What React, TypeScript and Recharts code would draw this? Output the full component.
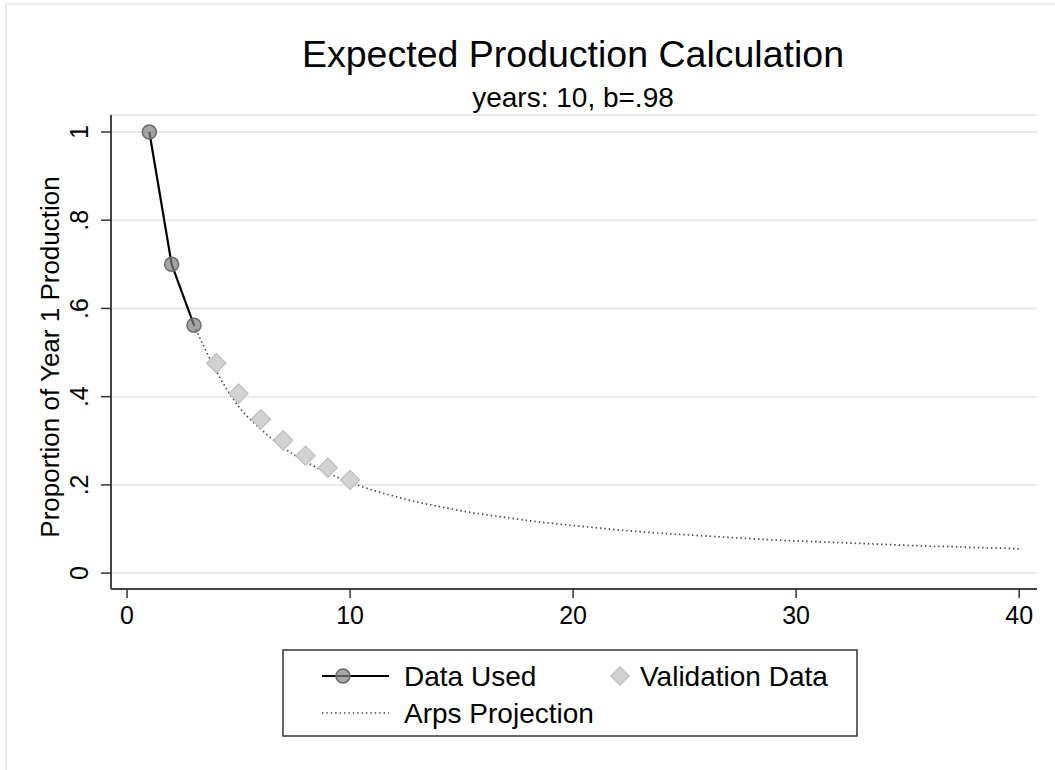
import { ComposedChart, Line, Scatter, XAxis, YAxis, CartesianGrid } from "recharts";

const FONT = "'Liberation Sans', Arial, sans-serif";

// data used for the fit (years 1-3)
const usedYears = [1, 2, 3];
const usedValues = [1, 0.7, 0.562];

// held-out validation points
const validationYears = [4, 5, 6, 7, 8, 9, 10];
const validationValues = [0.476, 0.407, 0.349, 0.301, 0.266, 0.239, 0.211];

// Arps projection
const projectionYears = [
  3, 4, 5, 6, 7, 8, 9, 10, 11, 12, 13, 14, 15, 16, 17, 18, 19, 20, 21, 22,
  23, 24, 25, 26, 27, 28, 29, 30, 31, 32, 33, 34, 35, 36, 37, 38, 39, 40,
];
const projectionValues = [
  0.562, 0.458, 0.378, 0.326, 0.285, 0.253, 0.227, 0.206, 0.188, 0.174, 0.161,
  0.151, 0.141, 0.133, 0.126, 0.119, 0.113, 0.108, 0.103, 0.098, 0.094, 0.09,
  0.087, 0.084, 0.081, 0.078, 0.075, 0.073, 0.071, 0.069, 0.067, 0.065, 0.063,
  0.061, 0.06, 0.058, 0.057, 0.055,
];

const xTicks = [0, 10, 20, 30, 40];
const yTicks = [0, 0.2, 0.4, 0.6, 0.8, 1];
const yTickLabels = ["0", ".2", ".4", ".6", ".8", "1"];

const usedData = usedYears.map((year, i) => ({ year, value: usedValues[i] }));
const validationData = validationYears.map((year, i) => ({ year, value: validationValues[i] }));
const projectionData = projectionYears.map((year, i) => ({ year, value: projectionValues[i] }));

const YTick = ({ x, y, payload }: any) => {
  const bx = x - 11;
  const idx = yTicks.indexOf(payload.value);
  return (
    <text
      x={bx}
      y={y}
      transform={`rotate(-90, ${bx}, ${y})`}
      textAnchor="middle"
      fontSize={25}
      fontFamily={FONT}
      fill="#000"
    >
      {idx >= 0 ? yTickLabels[idx] : payload.value}
    </text>
  );
};

const XTick = ({ x, y, payload }: any) => (
  <text x={x} y={y + 24} textAnchor="middle" fontSize={25} fontFamily={FONT} fill="#000">
    {payload.value}
  </text>
);

const Diamond = ({ cx, cy }: any) => {
  if (cx == null || cy == null) return null;
  const h = 9.5;
  return (
    <path
      d={`M${cx},${cy - h} L${cx + h},${cy} L${cx},${cy + h} L${cx - h},${cy} Z`}
      fill="#d2d2d2"
      stroke="#c2c2c2"
      strokeWidth={1.5}
    />
  );
};

function LegendBox() {
  return (
    <svg
      width={576}
      height={88}
      style={{ position: "absolute", left: 282, top: 649 }}
      fontFamily={FONT}
    >
      <rect x={1} y={1} width={574} height={86} fill="#fff" stroke="#333" strokeWidth={1.5} />
      <line x1={40} y1={27} x2={107} y2={27} stroke="#000" strokeWidth={2} />
      <circle cx={61} cy={27} r={7} fill="#7f7f7f" fillOpacity={0.7} stroke="#6a6a6a" strokeWidth={1.5} />
      <text x={122} y={37} fontSize={28} fill="#000">Data Used</text>
      <path d="M338,18 L347,27 L338,36 L329,27 Z" fill="#d2d2d2" stroke="#c2c2c2" strokeWidth={1.5} />
      <text x={358} y={37} fontSize={28} fill="#000">Validation Data</text>
      <line x1={40} y1={64} x2={107} y2={64} stroke="#444" strokeWidth={1.6} strokeDasharray="1.4 3" />
      <text x={122} y={74} fontSize={28} fill="#000">Arps Projection</text>
    </svg>
  );
}

export default function App() {
  return (
    <div
      style={{
        position: "absolute",
        left: 0,
        top: 0,
        width: 1055,
        height: 770,
        background: "#fff",
        overflow: "hidden",
      }}
    >
      <ComposedChart
        width={1055}
        height={770}
        margin={{ top: 115, right: 18, bottom: 121, left: 10 }}
      >
        <CartesianGrid horizontal vertical={false} stroke="#e9e9e9" strokeWidth={2} />
        <XAxis
          type="number"
          dataKey="year"
          domain={[-0.72, 40.8]}
          allowDataOverflow
          ticks={xTicks}
          tick={<XTick />}
          tickSize={9}
          height={60}
          axisLine={{ stroke: "#444", strokeWidth: 2 }}
          tickLine={{ stroke: "#333", strokeWidth: 1.5 }}
        />
        <YAxis
          type="number"
          domain={[-0.036, 1.0385]}
          allowDataOverflow
          ticks={yTicks}
          tick={<YTick />}
          tickSize={10}
          width={101}
          axisLine={{ stroke: "#444", strokeWidth: 2 }}
          tickLine={{ stroke: "#333", strokeWidth: 1.5 }}
        />
        <Line
          data={usedData}
          dataKey="value"
          type="linear"
          stroke="#000"
          strokeWidth={2.2}
          dot={{ r: 7, fill: "#7f7f7f", fillOpacity: 0.7, stroke: "#6a6a6a", strokeWidth: 1.5 }}
          isAnimationActive={false}
        />
        <Scatter
          data={validationData}
          dataKey="value"
          shape={<Diamond />}
          isAnimationActive={false}
        />
        <Line
          data={projectionData}
          dataKey="value"
          type="monotone"
          stroke="#444"
          strokeWidth={1.7}
          strokeDasharray="1.4 3"
          dot={false}
          isAnimationActive={false}
        />
      </ComposedChart>

      <svg
        width={1055}
        height={770}
        style={{ position: "absolute", left: 0, top: 0, pointerEvents: "none" }}
        fontFamily={FONT}
      >
        <line x1={6} y1={4} x2={1055} y2={4} stroke="#ebebeb" strokeWidth={2} />
        <line x1={6} y1={4} x2={6} y2={770} stroke="#ebebeb" strokeWidth={2} />
        <text x={573} y={67} textAnchor="middle" fontSize={37.5} fill="#000">
          Expected Production Calculation
        </text>
        <text x={573} y={107} textAnchor="middle" fontSize={28} fill="#000">
          years: 10, b=.98
        </text>
        <text
          x={59}
          y={357}
          transform="rotate(-90, 59, 357)"
          textAnchor="middle"
          fontSize={26}
          fill="#000"
        >
          Proportion of Year 1 Production
        </text>
      </svg>
      <LegendBox />
    </div>
  );
}
